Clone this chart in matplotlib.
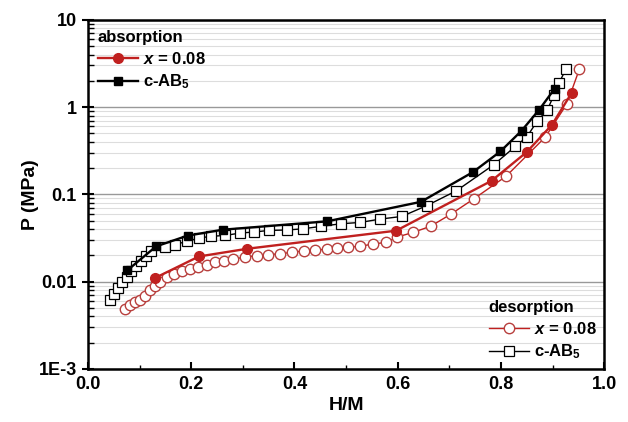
import matplotlib as mpl
import matplotlib.pyplot as plt
import matplotlib.ticker as ticker
import numpy as np

mpl.rcParams['font.family'] = 'Liberation Sans'
mpl.rcParams['font.weight'] = 'bold'
mpl.rcParams['mathtext.fontset'] = 'custom'
mpl.rcParams['mathtext.rm'] = 'Liberation Sans:bold'
mpl.rcParams['mathtext.it'] = 'Liberation Sans:bold:italic'
mpl.rcParams['mathtext.bf'] = 'Liberation Sans:bold'
fontsize = 13

# absorption, x = 0.08 (filled circles)
abs_x08_hm = [0.130, 0.215, 0.309, 0.597, 0.782, 0.850, 0.899, 0.937]
abs_x08_p = [0.0110, 0.0194, 0.0238, 0.0383, 0.143, 0.305, 0.627, 1.45]

# absorption, c-AB5 (filled squares)
abs_ab5_hm = [0.076, 0.132, 0.193, 0.261, 0.463, 0.645, 0.746, 0.799, 0.840, 0.874, 0.904]
abs_ab5_p = [0.0134, 0.0253, 0.0336, 0.0393, 0.049, 0.082, 0.18, 0.31, 0.535, 0.93, 1.62]

# desorption, x = 0.08 (open circles)
des_x08_hm = [0.072, 0.081, 0.091, 0.101, 0.110, 0.120, 0.130, 0.140, 0.153, 0.167,
              0.182, 0.198, 0.214, 0.230, 0.246, 0.264, 0.282, 0.304, 0.327, 0.349,
              0.372, 0.396, 0.419, 0.440, 0.463, 0.483, 0.504, 0.527, 0.552, 0.578,
              0.599, 0.630, 0.664, 0.703, 0.747, 0.810, 0.886, 0.928, 0.952]
des_x08_p = [0.0049, 0.0054, 0.0059, 0.0062, 0.0069, 0.0081, 0.0090, 0.0100, 0.0113, 0.0122,
             0.0131, 0.0139, 0.0147, 0.0156, 0.0166, 0.0173, 0.0181, 0.0191, 0.0198, 0.0203,
             0.0209, 0.0216, 0.0226, 0.0228, 0.0236, 0.0243, 0.0249, 0.0253, 0.0270, 0.0281,
             0.0324, 0.0366, 0.0431, 0.0592, 0.0883, 0.161, 0.453, 1.09, 2.72]

# desorption, c-AB5 (open squares)
des_ab5_hm = [0.043, 0.050, 0.058, 0.066, 0.075, 0.084, 0.093, 0.103, 0.113, 0.123,
              0.149, 0.169, 0.191, 0.216, 0.238, 0.266, 0.295, 0.322, 0.351, 0.386,
              0.417, 0.451, 0.490, 0.527, 0.566, 0.608, 0.656, 0.714, 0.786, 0.828,
              0.850, 0.870, 0.890, 0.903, 0.913, 0.926]
des_ab5_p = [0.0062, 0.0072, 0.0084, 0.0098, 0.0114, 0.0131, 0.0150, 0.0171, 0.0195, 0.0222,
             0.0247, 0.0265, 0.0289, 0.0316, 0.0330, 0.0338, 0.0360, 0.0370, 0.0386, 0.0390,
             0.0403, 0.0429, 0.046, 0.0476, 0.052, 0.0558, 0.074, 0.110, 0.218, 0.354,
             0.453, 0.684, 0.93, 1.38, 1.91, 2.72]

y_ticks = [1e-3, 1e-2, 1e-1, 1, 10]
y_ticklabels = ['1E-3', '0.01', '0.1', '1', '10']

red = '#c0201f'
red_open = '#b8403e'

fig = plt.figure(figsize=(6.28, 4.22), dpi=100)
ax = fig.add_axes([0.140, 0.126, 0.822, 0.827])

# desorption first, absorption on top
d1, = ax.plot(des_x08_hm, des_x08_p, color=red, lw=1.0, marker='o', ms=7.5,
              mfc='white', mec=red_open, mew=1.0, label='$x$ = 0.08')
d2, = ax.plot(des_ab5_hm, des_ab5_p, color='black', lw=1.0, marker='s', ms=7.2,
              mfc='white', mec='black', mew=0.9, label='c-AB$_5$')
a1, = ax.plot(abs_x08_hm, abs_x08_p, color=red, lw=1.7, marker='o', ms=7,
              mfc=red, mec=red, label='$x$ = 0.08')
a2, = ax.plot(abs_ab5_hm, abs_ab5_p, color='black', lw=1.7, marker='s', ms=6,
              mfc='black', mec='black', label='c-AB$_5$')

ax.set_yscale('log')
ax.set_xlim(0, 1.0)
ax.set_ylim(1e-3, 10)

ax.set_yticks(y_ticks)
ax.set_yticklabels(y_ticklabels)
ax.yaxis.set_minor_locator(ticker.LogLocator(base=10, subs=np.arange(2, 10)))
ax.yaxis.set_minor_formatter(ticker.NullFormatter())
ax.set_xticks(np.arange(0, 1.01, 0.2))
ax.xaxis.set_minor_locator(ticker.MultipleLocator(0.1))
ax.xaxis.set_major_formatter(ticker.FormatStrFormatter('%.1f'))

ax.tick_params(axis='y', which='major', direction='inout', length=9, width=1.5, labelsize=fontsize)
ax.tick_params(axis='y', which='minor', direction='in', length=4, width=1.0)
ax.tick_params(axis='x', which='major', direction='in', length=5, width=1.5, labelsize=fontsize, pad=5)
ax.tick_params(axis='x', which='minor', direction='in', length=3, width=1.0)

# horizontal grid only
ax.grid(True, axis='y', which='major', color='#999999', lw=1.0)
ax.grid(True, axis='y', which='minor', color='#dddddd', lw=0.8)
ax.set_axisbelow(True)

for s in ax.spines.values():
    s.set_linewidth(1.8)

ax.set_xlabel('H/M', fontsize=fontsize + 1, fontweight='bold', labelpad=3)
ax.set_ylabel('P (MPa)', fontsize=fontsize + 1, fontweight='bold', labelpad=0)

leg1 = ax.legend(handles=[a1, a2], title='absorption', loc='upper left',
                 fontsize=fontsize - 1, title_fontsize=fontsize - 1, frameon=False,
                 numpoints=1, handlelength=2.4, handletextpad=0.3, labelspacing=0.35,
                 borderaxespad=0.3, borderpad=0.3)
leg1._legend_box.align = 'left'
leg1.get_title().set_fontweight('bold')
ax.add_artist(leg1)

leg2 = ax.legend(handles=[d1, d2], title='desorption', loc='lower right',
                 fontsize=fontsize - 1, title_fontsize=fontsize - 1, frameon=False,
                 numpoints=1, handlelength=2.4, handletextpad=0.3, labelspacing=0.35,
                 borderaxespad=0.15, borderpad=0.3)
leg2._legend_box.align = 'left'
leg2.get_title().set_fontweight('bold')

plt.savefig('out.png', dpi=100)
